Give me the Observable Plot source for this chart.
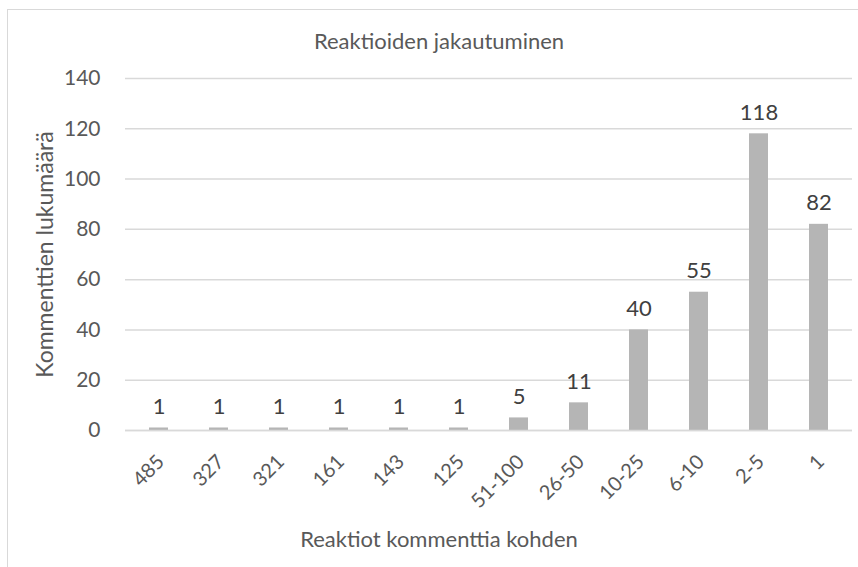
<!DOCTYPE html>
<html>
<head>
<meta charset="utf-8">
<script src="https://cdn.jsdelivr.net/npm/d3@7"></script>
<script src="https://cdn.jsdelivr.net/npm/@observablehq/plot@0.6"></script>
<style>
  body { margin: 0; background: #fff; }
  #wrap { position: relative; width: 858px; height: 567px; overflow: hidden; }
  #frame { position: absolute; left: 7px; top: 9px; width: 900px; height: 600px; border: 1px solid #d9d9d9; box-sizing: border-box; }
  #chart { position: absolute; left: 0; top: 0; }
</style>
</head>
<body>
<div id="wrap"><div id="frame"></div><div id="chart"></div></div>
<script>
const categories = ["485", "327", "321", "161", "143", "125", "51-100", "26-50", "10-25", "6-10", "2-5", "1"];
const counts = [1, 1, 1, 1, 1, 1, 5, 11, 40, 55, 118, 82];
const yTicks = [0, 20, 40, 60, 80, 100, 120, 140];
const title = "Reaktioiden jakautuminen";
const xLabel = "Reaktiot kommenttia kohden";
const yLabel = "Kommenttien lukumäärä";

const data = categories.map((c, i) => ({category: c, count: counts[i]}));
const font = "Lato, 'Open Sans', sans-serif";
const textColor = "#595959";

const chart = Plot.plot({
  width: 858,
  height: 567,
  marginLeft: 125,
  marginRight: 6,
  marginTop: 78,
  marginBottom: 137,
  style: {fontFamily: font, fontSize: "20px", color: textColor, background: "transparent"},
  x: {domain: categories, paddingInner: 0.69, paddingOuter: 0.345, label: null, axis: null},
  y: {domain: [0, 140], label: null},
  marks: [
    Plot.gridY(yTicks, {stroke: "#d9d9d9", strokeOpacity: 1, strokeWidth: 1.5}),
    Plot.barY(data, {x: "category", y: "count", fill: "#b5b5b5"}),
    Plot.ruleY([0], {stroke: "#d9d9d9", strokeWidth: 1.5}),
    Plot.text(data, {x: "category", y: "count", text: d => String(d.count), lineAnchor: "bottom", dy: -14, fill: "#404040", fontSize: 22}),
    Plot.axisY(yTicks, {tickSize: 0, tickPadding: 25, fill: textColor, label: null, fontSize: 21}),
    Plot.text(categories, {x: d => d, text: d => d, frameAnchor: "bottom", rotate: -45, textAnchor: "end", lineAnchor: "middle", dx: 2, dy: 28, fill: textColor, fontSize: 20}),
    Plot.text([title], {frameAnchor: "top", dx: -50, dy: -45, fill: textColor, fontSize: 22}),
    Plot.text([xLabel], {frameAnchor: "bottom", dx: -50, dy: 116, fill: textColor, fontSize: 22}),
    Plot.text([yLabel], {frameAnchor: "left", textAnchor: "middle", dx: -80, rotate: -90, fill: textColor, fontSize: 23})
  ]
});
document.getElementById("chart").appendChild(chart);
</script>
</body>
</html>
